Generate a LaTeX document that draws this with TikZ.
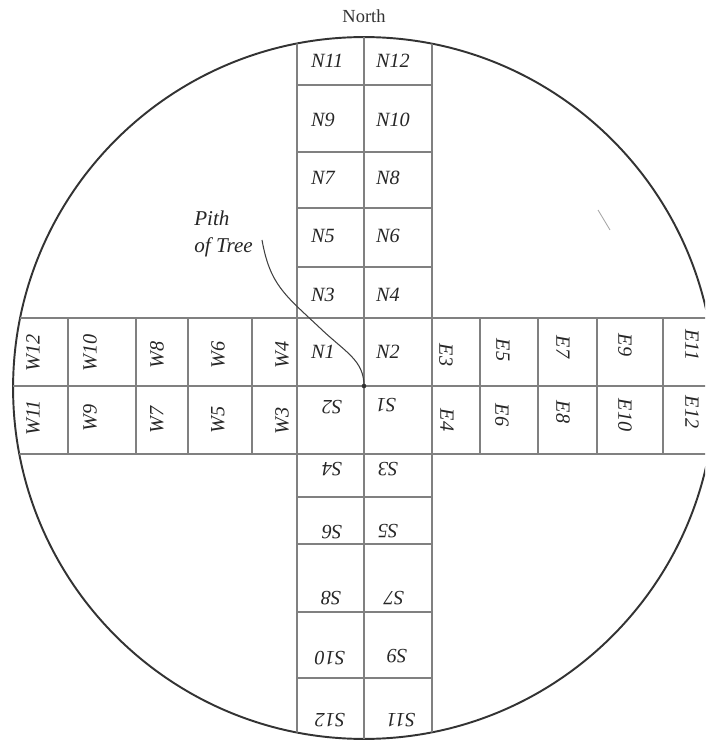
\documentclass[tikz,border=0pt]{standalone}
\usepackage{fontspec}
\setmainfont{Liberation Serif}

\begin{document}
\begin{tikzpicture}[
    x=0.02cm, y=-0.02cm,
    rim/.style={line width=1.1pt,black!80},
    gridline/.style={line width=0.8pt,black!50},
    cell/.style={font=\fontsize{11.5}{12}\selectfont\itshape,text=black!85,inner sep=1pt},
    nlab/.style={cell,anchor=west},
    slab/.style={cell,rotate=180},
    elab/.style={cell,rotate=-90},
    wlab/.style={cell,rotate=90},
    callout/.style={font=\fontsize{12}{15.3}\selectfont\itshape,text=black!85,align=left,inner sep=0pt}
]
\useasboundingbox (0,0) rectangle (705,742);
\clip (0,0) rectangle (705,742);

% disc and cutting strips
\draw[rim] (364,388) circle [radius=7.02cm];
\begin{scope}
\clip (364,388) circle [radius=7.02cm];
\foreach \x in {297,364,432}
  \draw[gridline] (\x,0) -- (\x,742);
\foreach \y in {318,386,454}
  \draw[gridline] (0,\y) -- (725,\y);
\foreach \y in {85,152,208,267,497,544,612,678}
  \draw[gridline] (297,\y) -- (432,\y);
\foreach \x in {68,136,188,252,480,538,597,663}
  \draw[gridline] (\x,318) -- (\x,454);
\end{scope}

\node[font=\fontsize{10.5}{12}\selectfont,text=black!80] (northlabel) at (364,16) {North};

% sample labels
\foreach \name/\x/\y in {N11/309/61,N12/374/61,N9/309/120,N10/374/120,N7/309/178,N8/374/178,
    N5/309/236,N6/374/236,N3/309/295,N4/374/295,N1/309/352,N2/374/352}
  \node[nlab] (\name) at (\x,\y) {\name};
\foreach \name/\x/\y in {S2/332/407,S1/386/405,S4/332/469,S3/388/469,S6/332/532,S5/388/531,
    S8/331/598,S7/394/598,S10/330/658,S9/397/656,S12/330/720,S11/401/720}
  \node[slab] (\name) at (\x,\y) {\name};
\foreach \name/\x/\y in {W12/33/353,W11/33/418,W10/90/353,W9/90/418,W8/157/355,W7/157/420,
    W6/218/355,W5/218/420,W4/282/355,W3/282/421}
  \node[wlab] (\name) at (\x,\y) {\name};
\foreach \name/\x/\y in {E3/446/355,E4/447/420,E5/503/350,E6/502/415,E7/563/347,E8/563/412,
    E9/625/345,E10/625/415,E11/692/345,E12/692/412}
  \node[elab] (\name) at (\x,\y) {\name};

% pith callout
\coordinate (pith) at (364,386);
\coordinate (tail) at (262,240);
\node[callout,anchor=north west] (pithlabel) at (194,211) {Pith\\of Tree};
\draw[line width=0.6pt,black!75] (tail) .. controls (270,285) and (285,295) .. (320,328)
  .. controls (345,352) and (364,360) .. (pith);
\fill[black!80] (pith) circle [radius=1.3pt];

\draw[line width=0.5pt,black!35] (598,210) -- (610,230);
\end{tikzpicture}
\end{document}
